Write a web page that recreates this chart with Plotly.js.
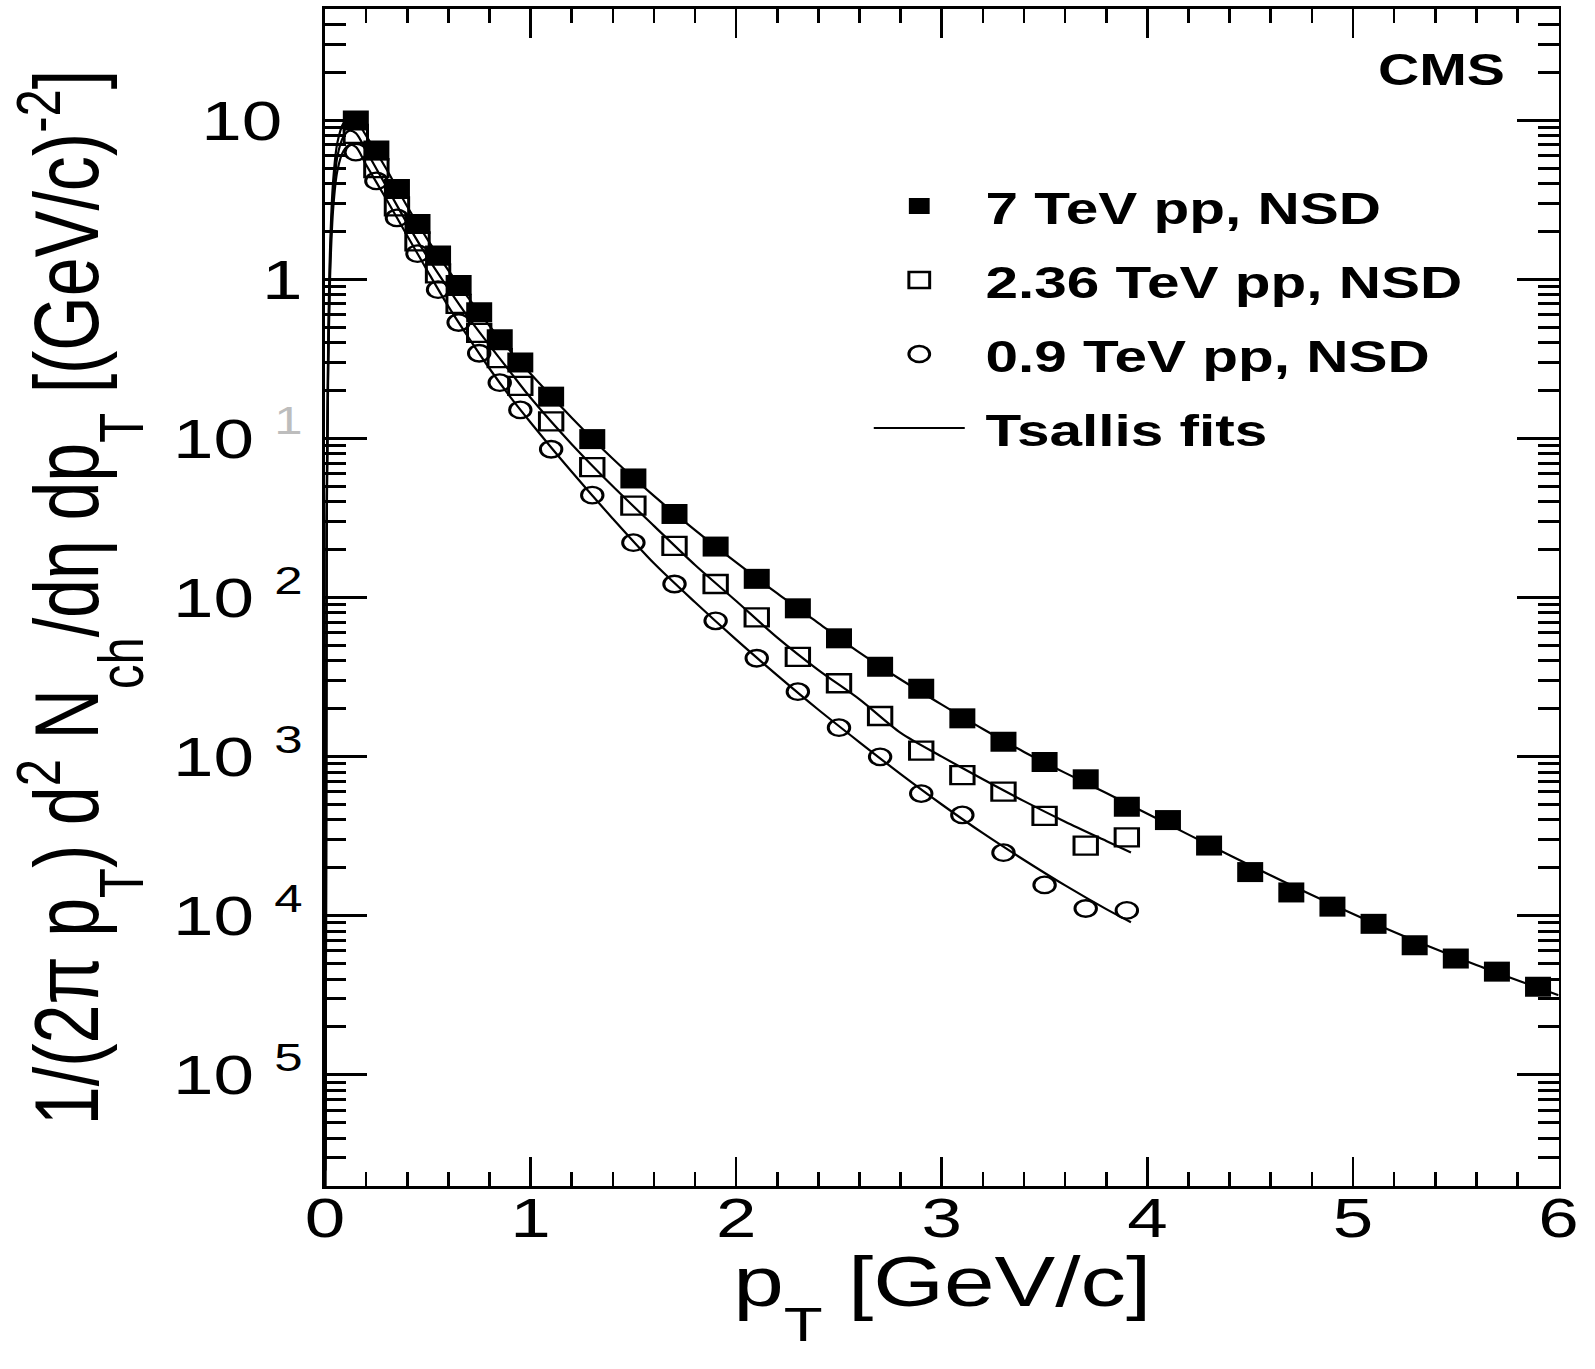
<!DOCTYPE html>
<html>
<head>
<meta charset="utf-8">
<script src="https://cdn.plot.ly/plotly-3.0.1.min.js"></script>
<style>
  html, body { margin: 0; padding: 0; overflow: hidden; background: #fff; }
  #chart { width: 1227px; height: 1369px; }
</style>
</head>
<body>
<div id="chart"></div>
<script>
// Charged-hadron invariant yields vs pT, CMS NSD pp at three energies.
const ptBins7 = [0.15, 0.25, 0.35, 0.45, 0.55, 0.65, 0.75, 0.85, 0.95, 1.1, 1.3, 1.5, 1.7, 1.9, 2.1, 2.3, 2.5, 2.7,
                 2.9, 3.1, 3.3, 3.5, 3.7, 3.9, 4.1, 4.3, 4.5, 4.7, 4.9, 5.1, 5.3, 5.5, 5.7, 5.9];
const yield7 = [9.97, 6.45, 3.69, 2.23, 1.41, 0.92, 0.62, 0.42, 0.30, 0.183, 0.099, 0.056, 0.0335, 0.0209, 0.0131,
                0.00855, 0.00554, 0.00367, 0.00267, 0.00174, 0.00124, 0.000925, 0.00072, 0.000484, 0.000399,
                0.000276, 0.000188, 0.00014, 0.000114, 0.0000889, 0.0000652, 0.0000538, 0.0000445, 0.0000357];

const ptBinsLow = [0.15, 0.25, 0.35, 0.45, 0.55, 0.65, 0.75, 0.85, 0.95, 1.1, 1.3, 1.5, 1.7, 1.9, 2.1, 2.3, 2.5, 2.7,
                   2.9, 3.1, 3.3, 3.5, 3.7, 3.9];
const yield236 = [8.2, 5.0, 2.87, 1.73, 1.09, 0.70, 0.46, 0.32, 0.214, 0.128, 0.066, 0.0378, 0.0211, 0.01216, 0.0075,
                  0.00424, 0.00289, 0.0018, 0.00109, 0.000764, 0.000603, 0.000424, 0.000276, 0.000311];
const yield09 = [6.3, 4.15, 2.43, 1.45, 0.86, 0.535, 0.343, 0.224, 0.151, 0.0855, 0.044, 0.0221, 0.01216, 0.00714,
                 0.00415, 0.00256, 0.00152, 0.000997, 0.000586, 0.00043, 0.000249, 0.000156, 0.000111, 0.000108];

// Tsallis fit curves, sampled along pT
const fitPt7 = [0.003, 0.008, 0.015, 0.025, 0.04, 0.06, 0.09, 0.12, 0.15, 0.2, 0.3, 0.4, 0.5, 0.6, 0.7, 0.8, 0.9, 1.0,
                1.2, 1.4, 1.6, 1.8, 2.0, 2.2, 2.4, 2.6, 2.8, 3.0, 3.2, 3.4, 3.6, 3.8, 4.0, 4.4, 4.8, 5.2, 5.6, 6.0];
const fit7 = [3e-6, 0.03, 0.35, 1.6, 4.2, 7.2, 9.6, 10.4, 10.0, 8.0, 4.9, 2.87, 1.77, 1.14, 0.755, 0.51, 0.355, 0.255,
              0.135, 0.0745, 0.0435, 0.0265, 0.0166, 0.0106, 0.0069, 0.0045, 0.00305, 0.00212, 0.00149, 0.00107,
              0.00079, 0.00059, 0.000437, 0.00024, 0.000135, 0.000079, 0.000049, 0.0000316];

const fitPtLow = [0.003, 0.008, 0.015, 0.025, 0.04, 0.06, 0.09, 0.12, 0.15, 0.2, 0.3, 0.4, 0.5, 0.6, 0.7, 0.8, 0.9,
                  1.0, 1.2, 1.4, 1.6, 1.8, 2.0, 2.2, 2.4, 2.6, 2.8, 3.0, 3.2, 3.4, 3.6, 3.8, 3.92];
const fit236 = [2.5e-6, 0.025, 0.28, 1.3, 3.4, 5.9, 7.9, 8.6, 8.3, 6.45, 3.8, 2.24, 1.37, 0.875, 0.57, 0.385, 0.263,
                0.18, 0.092, 0.05, 0.0282, 0.016, 0.0095, 0.0056, 0.0035, 0.00229, 0.00141, 0.001, 0.00072,
                0.000525, 0.00039, 0.000295, 0.00025];
const fit09 = [2e-6, 0.02, 0.22, 1.05, 2.8, 4.8, 6.4, 7.0, 6.8, 5.25, 3.16, 1.88, 1.12, 0.676, 0.427, 0.275, 0.183,
               0.126, 0.0617, 0.0313, 0.0164, 0.00933, 0.00543, 0.00324, 0.00197, 0.00123, 0.000776, 0.0005,
               0.00033, 0.000224, 0.000155, 0.00011, 0.000091];

const seriesNames = ['7 TeV pp, NSD', '2.36 TeV pp, NSD', '0.9 TeV pp, NSD', 'Tsallis fits'];

const yTickVals = [10, 1, 0.1, 0.01, 0.001, 0.0001, 0.00001];
const yTickText = ['10\u00a0', '1', '10 <sup><span style="color:#bdbdbd">1</span></sup>', '10 <sup>2</sup>',
                   '10 <sup>3</sup>', '10 <sup>4</sup>', '10 <sup>5</sup>'];

// The figure is laid out narrow, then its SVG is widened horizontally as a whole.
const STRETCH = 1.3;
const FONT = '"Liberation Sans", Arial, Helvetica, sans-serif';

// deeper subscripts, in the style of the axis titles
const low = s => '<sub><span style="baseline-shift:-0.4em">' + s + '</span></sub>';

// minor log ticks: 2..9 in every decade inside the range
const yMinor = [];
for (let e = -6; e <= 1; e++) {
  for (let m = 2; m <= 9; m++) {
    const v = m * Math.pow(10, e);
    if (v >= 2e-6 && v <= 50) yMinor.push(v);
  }
}

const markerTrace = (x, y, name, group, symbol, size) => ({
  x: x, y: y, name: name, legendgroup: group, type: 'scatter', mode: 'markers',
  marker: { symbol: symbol, size: size, color: '#000', line: { color: '#000', width: symbol === 'square' ? 0 : 2.3 } },
  hoverinfo: 'x+y'
});
const fitTrace = (x, y, show) => ({
  x: x, y: y, name: seriesNames[3], legendgroup: 'fits', showlegend: show, type: 'scatter', mode: 'lines',
  line: { color: '#000', width: 2.2, shape: 'spline', smoothing: 0.8 }, hoverinfo: 'skip'
});

const data = [
  markerTrace(ptBins7, yield7, seriesNames[0], 'e7', 'square', 20),
  markerTrace(ptBinsLow, yield236, seriesNames[1], 'e236', 'square-open', 18),
  markerTrace(ptBinsLow, yield09, seriesNames[2], 'e09', 'circle-open', 16.5),
  fitTrace(fitPt7, fit7, true),
  fitTrace(fitPtLow, fit236, false),
  fitTrace(fitPtLow, fit09, false)
];

const layout = {
  width: 1227, height: 1369,
  margin: { l: 250, r: 28, t: 9, b: 183 },
  paper_bgcolor: '#fff', plot_bgcolor: '#fff',
  font: { family: FONT, color: '#000' },
  showlegend: true,
  legend: {
    x: 0.428, y: 0.863, xanchor: 'left', yanchor: 'top',
    bgcolor: 'rgba(0,0,0,0)', borderwidth: 0,
    font: { family: FONT, size: 45, weight: 'bold', color: '#000' },
    itemwidth: 92, traceorder: 'grouped', tracegroupgap: 12.5
  },
  xaxis: {
    range: [0, 6], tickmode: 'linear', tick0: 0, dtick: 1,
    ticks: 'inside', ticklen: 29, tickwidth: 2.1, tickcolor: '#000',
    showline: true, linewidth: 2.7, linecolor: '#000', mirror: 'ticks',
    showgrid: false, zeroline: false,
    tickfont: { family: FONT, size: 56, color: '#000' },
    ticklabelstandoff: -19,
    minor: { tick0: 0, dtick: 0.2, ticks: 'inside', ticklen: 14, tickwidth: 2.1, tickcolor: '#000', showgrid: false }
  },
  yaxis: {
    type: 'log', range: [Math.log10(2e-6), Math.log10(50)],
    tickmode: 'array', tickvals: yTickVals, ticktext: yTickText,
    ticks: 'inside', ticklen: 32, tickwidth: 2.5, tickcolor: '#000',
    showline: true, linewidth: 2.1, linecolor: '#000', mirror: 'ticks',
    showgrid: false, zeroline: false,
    tickfont: { family: FONT, size: 56, color: '#000' },
    ticklabelstandoff: 4,
    minor: { tickmode: 'array', tickvals: yMinor, ticks: 'inside', ticklen: 16, tickwidth: 2.5, tickcolor: '#000', showgrid: false },
    title: {
      text: '1/(2π p' + low('T') + ') d<sup>2</sup> N' + low('ch') + '/dη dp' + low('T') + ' [(GeV/c)<sup>-2</sup>]',
      font: { family: FONT, size: 70, color: '#000' }, standoff: 34
    }
  },
  annotations: [
    {
      // x-axis title
      text: 'p' + low('T') + ' [GeV/c]', xref: 'paper', yref: 'paper', x: 0.5, y: -0.0935,
      xanchor: 'center', yanchor: 'middle', showarrow: false,
      font: { family: FONT, size: 70, color: '#000' }
    },
    {
      text: 'CMS', xref: 'paper', yref: 'paper', x: 0.905, y: 0.949, xanchor: 'center', yanchor: 'middle',
      showarrow: false, font: { family: FONT, size: 44, weight: 'bold', color: '#000' }
    }
  ]
};

const chart = document.getElementById('chart');

// widen the drawn SVG layers horizontally and shorten the legend's line sample
function finish() {
  const w = layout.width, h = layout.height, wide = Math.round(w * STRETCH);
  chart.querySelectorAll('svg.main-svg').forEach(svg => {
    svg.setAttribute('viewBox', '0 0 ' + w + ' ' + h);
    svg.setAttribute('preserveAspectRatio', 'none');
    svg.setAttribute('width', wide);
  });
  chart.style.width = wide + 'px';
  chart.querySelectorAll('.svg-container').forEach(c => { c.style.width = wide + 'px'; });
  chart.querySelectorAll('.legendlines path').forEach(p => p.setAttribute('d', 'M16,0h70'));
}

Plotly.newPlot(chart, data, layout, { displayModeBar: false }).then(finish);
</script>
</body>
</html>
